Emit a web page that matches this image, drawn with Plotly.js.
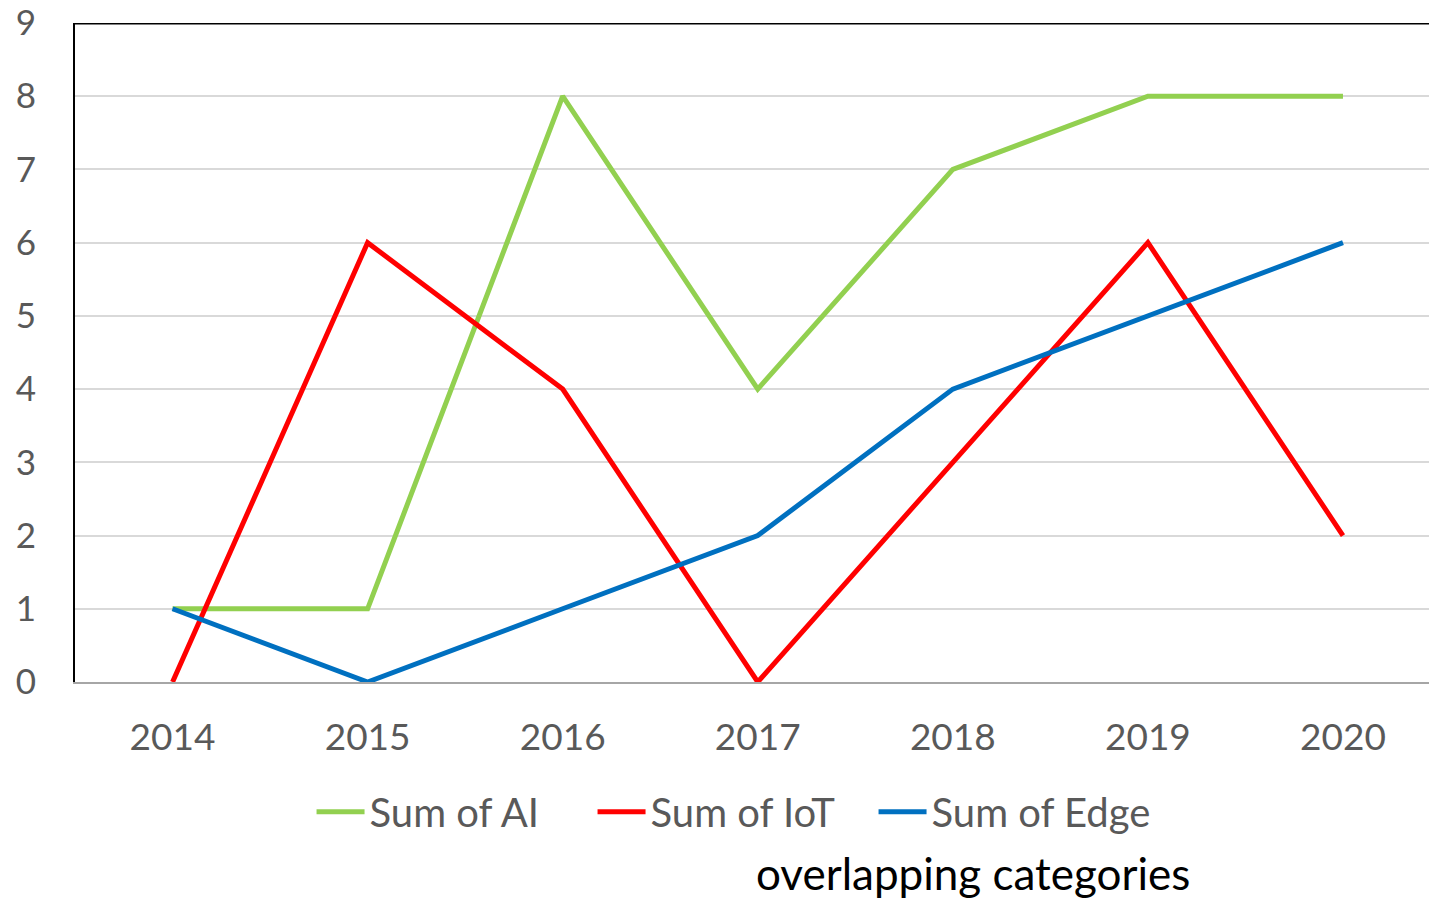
<!DOCTYPE html>
<html>
<head>
<meta charset="utf-8">
<script src="https://cdn.plot.ly/plotly-3.0.1.min.js"></script>
<style>html,body{margin:0;padding:0;background:#fff;}#chart{width:1429px;height:899px;}</style>
</head>
<body>
<div id="chart"></div>
<script>
const years = ["2014", "2015", "2016", "2017", "2018", "2019", "2020"];
const sumAI = [1, 1, 8, 4, 7, 8, 8];
const sumIoT = [0, 6, 4, 0, 3, 6, 2];
const sumEdge = [1, 0, 1, 2, 4, 5, 6];
const yTicks = [0, 1, 2, 3, 4, 5, 6, 7, 8, 9];

const FONT = "Lato, 'Open Sans', sans-serif";
const mk = (name, y, color) => ({
  type: "scatter", mode: "lines", name: name, x: years, y: y,
  line: {color: color, width: 5}, cliponaxis: false
});
const data = [
  mk("Sum of AI", sumAI, "#92D050"),
  mk("Sum of IoT", sumIoT, "#FF0000"),
  mk("Sum of Edge", sumEdge, "#0070C0")
];
const layout = {
  width: 1429, height: 899,
  margin: {l: 75, r: 0, t: 23, b: 217},
  paper_bgcolor: "#fff", plot_bgcolor: "#fff",
  font: {family: FONT, color: "#595959", size: 37},
  showlegend: true,
  legend: {
    orientation: "h", x: 0.486, xanchor: "center", y: -0.197, yanchor: "middle",
    font: {family: FONT, size: 40, color: "#595959"}, itemwidth: 48,
    entrywidth: 218, entrywidthmode: "pixels", tracegroupgap: 0
  },
  xaxis: {
    type: "category", range: [-0.5, 6.441], showgrid: false,
    showline: true, linecolor: "#a6a6a6", linewidth: 2, zeroline: false,
    ticks: "", ticklabelstandoff: 22, tickfont: {family: FONT, size: 37, color: "#595959"}
  },
  yaxis: {
    range: [0, 9], autorange: false, tickmode: "array", tickvals: yTicks,
    ticktext: yTicks.map(String), showgrid: true, gridcolor: "#d9d9d9", gridwidth: 2,
    showline: true, linecolor: "#000", linewidth: 2, zeroline: false,
    ticks: "", ticklabelstandoff: 30, ticklabeloverflow: "allow",
    tickfont: {family: FONT, size: 35, color: "#595959"}
  },
  shapes: [{type: "line", xref: "paper", yref: "y", x0: 0, x1: 1, y0: 9, y1: 9, line: {color: "#000", width: 3}}],
  annotations: [{
    text: "overlapping categories", xref: "paper", yref: "paper", x: 0.663, y: -0.29,
    xanchor: "center", yanchor: "middle", showarrow: false,
    font: {family: FONT, size: 44, color: "#000"}
  }]
};
Plotly.newPlot("chart", data, layout, {displayModeBar: false, responsive: false});
</script>
</body>
</html>
